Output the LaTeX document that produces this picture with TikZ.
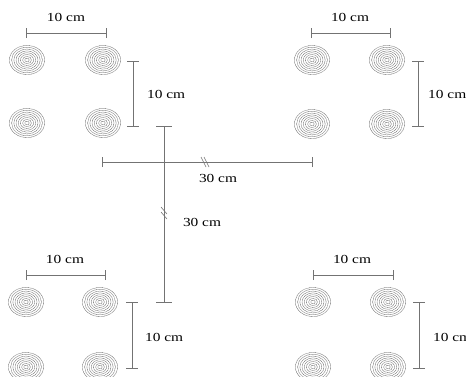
\documentclass[tikz,border=0pt]{standalone}
\usepackage{fontspec}
\setmainfont{Liberation Serif}
\usepackage{graphicx}
\tikzset{
  dimline/.style={draw=black!55, line width=0.8pt},
  lbl/.style={inner sep=0pt, text=black, font=\fontsize{12.3}{14}\selectfont},
  ring/.style={draw=black!60, line width=0.45pt, dash pattern=on 0.7pt off 0.5pt},
  brk/.style={draw=black!55, line width=0.6pt}
}
\newcommand{\padcirc}[2]{%
  \foreach \k in {1,...,8}{%
    \draw[ring] (#1,#2) ellipse ({2.2*\k} and {1.82*\k});
  }%
}
\newcommand{\lab}[1]{\scalebox{1.25}[1]{#1}}
\begin{document}
\begin{tikzpicture}[x=1pt, y=-1pt]
\useasboundingbox (0,0) rectangle (466,376);
\clip (0,0) rectangle (466,376);
% pads
\padcirc{27}{60}\padcirc{103}{60}\padcirc{27}{123}\padcirc{103}{123}
\padcirc{312}{60}\padcirc{387}{60}\padcirc{312}{124}\padcirc{387}{124}
\padcirc{26}{302}\padcirc{100}{302}\padcirc{26}{367}\padcirc{100}{367}
\padcirc{313}{302}\padcirc{388}{302}\padcirc{313}{367}\padcirc{388}{367}
% coordinates of dimension bars
\coordinate (tlh1) at (26,33); \coordinate (tlh2) at (106,33);
\coordinate (tlv1) at (133,61); \coordinate (tlv2) at (133,126);
\coordinate (trh1) at (311,33); \coordinate (trh2) at (390,33);
\coordinate (trv1) at (418,61); \coordinate (trv2) at (418,126);
\coordinate (blh1) at (26,275); \coordinate (blh2) at (105,275);
\coordinate (blv1) at (132,302); \coordinate (blv2) at (132,368);
\coordinate (brh1) at (313,275); \coordinate (brh2) at (393,275);
\coordinate (brv1) at (419,302); \coordinate (brv2) at (419,368);
\coordinate (ch1) at (102,162); \coordinate (ch2) at (312,162);
\coordinate (cv1) at (164,126); \coordinate (cv2) at (164,302);
% horizontal bars with end ticks
\foreach \a/\b in {tlh1/tlh2,trh1/trh2,blh1/blh2,brh1/brh2,ch1/ch2}{
  \draw[dimline] (\a) -- (\b);
  \draw[dimline] ([yshift=-5pt]\a) -- ([yshift=5pt]\a);
  \draw[dimline] ([yshift=-5pt]\b) -- ([yshift=5pt]\b);
}
% vertical bars with end ticks
\foreach \a/\b in {tlv1/tlv2,trv1/trv2,blv1/blv2,brv1/brv2}{
  \draw[dimline] (\a) -- (\b);
  \draw[dimline] ([xshift=-6pt]\a) -- ([xshift=6pt]\a);
  \draw[dimline] ([xshift=-6pt]\b) -- ([xshift=6pt]\b);
}
\draw[dimline] (cv1) -- (cv2);
\draw[dimline] ([xshift=-8pt]cv1) -- ([xshift=8pt]cv1);
\draw[dimline] ([xshift=-8pt]cv2) -- ([xshift=8pt]cv2);
% break marks
\coordinate (bh) at (205,162);
\coordinate (bv) at (164,213);
\draw[brk] ([shift={(-4,-5)}]bh) -- ([shift={(1,5)}]bh);
\draw[brk] ([shift={(-1,-5)}]bh) -- ([shift={(4,5)}]bh);
\draw[brk] ([shift={(-3,-6)}]bv) -- ([shift={(3,1)}]bv);
\draw[brk] ([shift={(-3,-1)}]bv) -- ([shift={(3,6)}]bv);
% labels
\node[lbl] (l1) at (66,17) {\lab{10 cm}};
\node[lbl, anchor=west] (l2) at (147,94) {\lab{10 cm}};
\node[lbl] (l3) at (350,17) {\lab{10 cm}};
\node[lbl, anchor=west] (l4) at (428,94) {\lab{10 cm}};
\node[lbl] (l5) at (65,259) {\lab{10 cm}};
\node[lbl, anchor=west] (l6) at (145,337) {\lab{10 cm}};
\node[lbl] (l7) at (352,259) {\lab{10 cm}};
\node[lbl, anchor=west] (l8) at (433,337) {\lab{10 cm}};
\node[lbl] (l9) at (218,178) {\lab{30 cm}};
\node[lbl] (l10) at (202,222) {\lab{30 cm}};
\end{tikzpicture}
\end{document}
